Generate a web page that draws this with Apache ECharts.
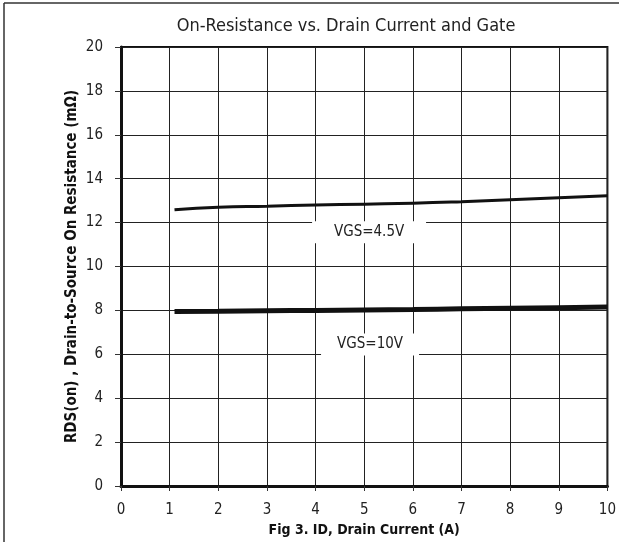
<!DOCTYPE html>
<html>
<head>
<meta charset="utf-8">
<script src="https://cdn.jsdelivr.net/npm/echarts@6/dist/echarts.min.js"></script>
<style>
  html, body { margin: 0; padding: 0; background: #fff; }
  #chart { width: 619px; height: 542px; }
</style>
</head>
<body>
<div id="chart"></div>
<script>
// Drain current (A) and on-resistance (mOhm) for two gate voltages
const currentVgs45 = [1.1, 2, 3, 4, 5, 6, 7, 8, 9, 10];
const rdsVgs45     = [12.58, 12.7, 12.75, 12.8, 12.84, 12.88, 12.95, 13.04, 13.13, 13.22];
const currentVgs10 = [1.1, 2, 3, 4, 5, 6, 7, 8, 9, 10];
const rdsVgs10     = [7.95, 7.96, 7.98, 8.0, 8.02, 8.04, 8.07, 8.1, 8.12, 8.15];

// Curve labels and their anchor (current, resistance)
const labelVgs45 = 'VGS=4.5V';
const labelVgs10 = 'VGS=10V';
const anchorVgs45 = [5.1, 11.56];
const anchorVgs10 = [5.12, 6.45];

const xTicks = [0, 1, 2, 3, 4, 5, 6, 7, 8, 9, 10];
const yTicks = [0, 2, 4, 6, 8, 10, 12, 14, 16, 18, 20];

const FONT = '"DejaVu Sans Condensed", "DejaVu Sans", sans-serif';

const chart = echarts.init(document.getElementById('chart'), null, { renderer: 'canvas' });

function pair(xs, ys) { return xs.map((x, i) => [x, ys[i]]); }

function tagPoint(name, coord, w) {
  return {
    symbol: 'rect',
    symbolSize: [w, 22],
    silent: true,
    itemStyle: { color: '#fff' },
    label: {
      show: true, position: 'inside', formatter: name,
      color: '#222', fontFamily: FONT, fontSize: 15
    },
    data: [{ coord: coord }]
  };
}

chart.setOption({
  animation: false,
  backgroundColor: '#fff',
  title: {
    text: 'On-Resistance vs. Drain Current and Gate',
    left: 341, top: 12, textAlign: 'center',
    textStyle: { fontFamily: FONT, fontSize: 18, fontWeight: 'normal', color: '#222' }
  },
  grid: {
    left: 121, right: 10, top: 47, bottom: 54,
    show: true, borderColor: '#111', borderWidth: 2, backgroundColor: 'transparent'
  },
  xAxis: {
    type: 'value', min: xTicks[0], max: xTicks[xTicks.length - 1], interval: 1,
    name: 'Fig 3. ID, Drain Current (A)', nameLocation: 'middle', nameGap: 37,
    nameTextStyle: { fontFamily: FONT, fontSize: 14, fontWeight: 'bold', color: '#111' },
    axisLine: { lineStyle: { color: '#111', width: 3 } },
    axisTick: { show: true, length: 5, lineStyle: { color: '#333', width: 1 } },
    axisLabel: { margin: 17, fontFamily: FONT, fontSize: 15, color: '#222' },
    splitLine: { show: true, lineStyle: { color: '#222', width: 1 } }
  },
  yAxis: {
    type: 'value', min: yTicks[0], max: yTicks[yTicks.length - 1], interval: 2,
    name: 'RDS(on) , Drain-to-Source On Resistance (mΩ)', nameLocation: 'middle', nameGap: 41,
    nameMoveOverlap: false,
    nameTextStyle: { fontFamily: FONT, fontSize: 15, fontWeight: 'bold', color: '#111' },
    axisLine: { show: true, lineStyle: { color: '#111', width: 3 } },
    axisTick: { show: true, length: 6, lineStyle: { color: '#333', width: 1 } },
    axisLabel: { margin: 18, fontFamily: FONT, fontSize: 15, color: '#222' },
    splitLine: { show: true, lineStyle: { color: '#222', width: 1 } }
  },
  series: [
    {
      name: labelVgs45, type: 'line', data: pair(currentVgs45, rdsVgs45),
      showSymbol: false, smooth: true,
      lineStyle: { color: '#111', width: 3 },
      markPoint: tagPoint(labelVgs45, anchorVgs45, 114)
    },
    {
      name: labelVgs10, type: 'line', data: pair(currentVgs10, rdsVgs10),
      showSymbol: false, smooth: true,
      lineStyle: { color: '#111', width: 5 },
      markPoint: tagPoint(labelVgs10, anchorVgs10, 98)
    }
  ],
  graphic: [
    { type: 'line', shape: { x1: 4, y1: 3, x2: 619, y2: 3 }, style: { stroke: '#333', lineWidth: 1.5 } },
    { type: 'line', shape: { x1: 4, y1: 3, x2: 4, y2: 542 }, style: { stroke: '#333', lineWidth: 1.5 } }
  ]
});
</script>
</body>
</html>
